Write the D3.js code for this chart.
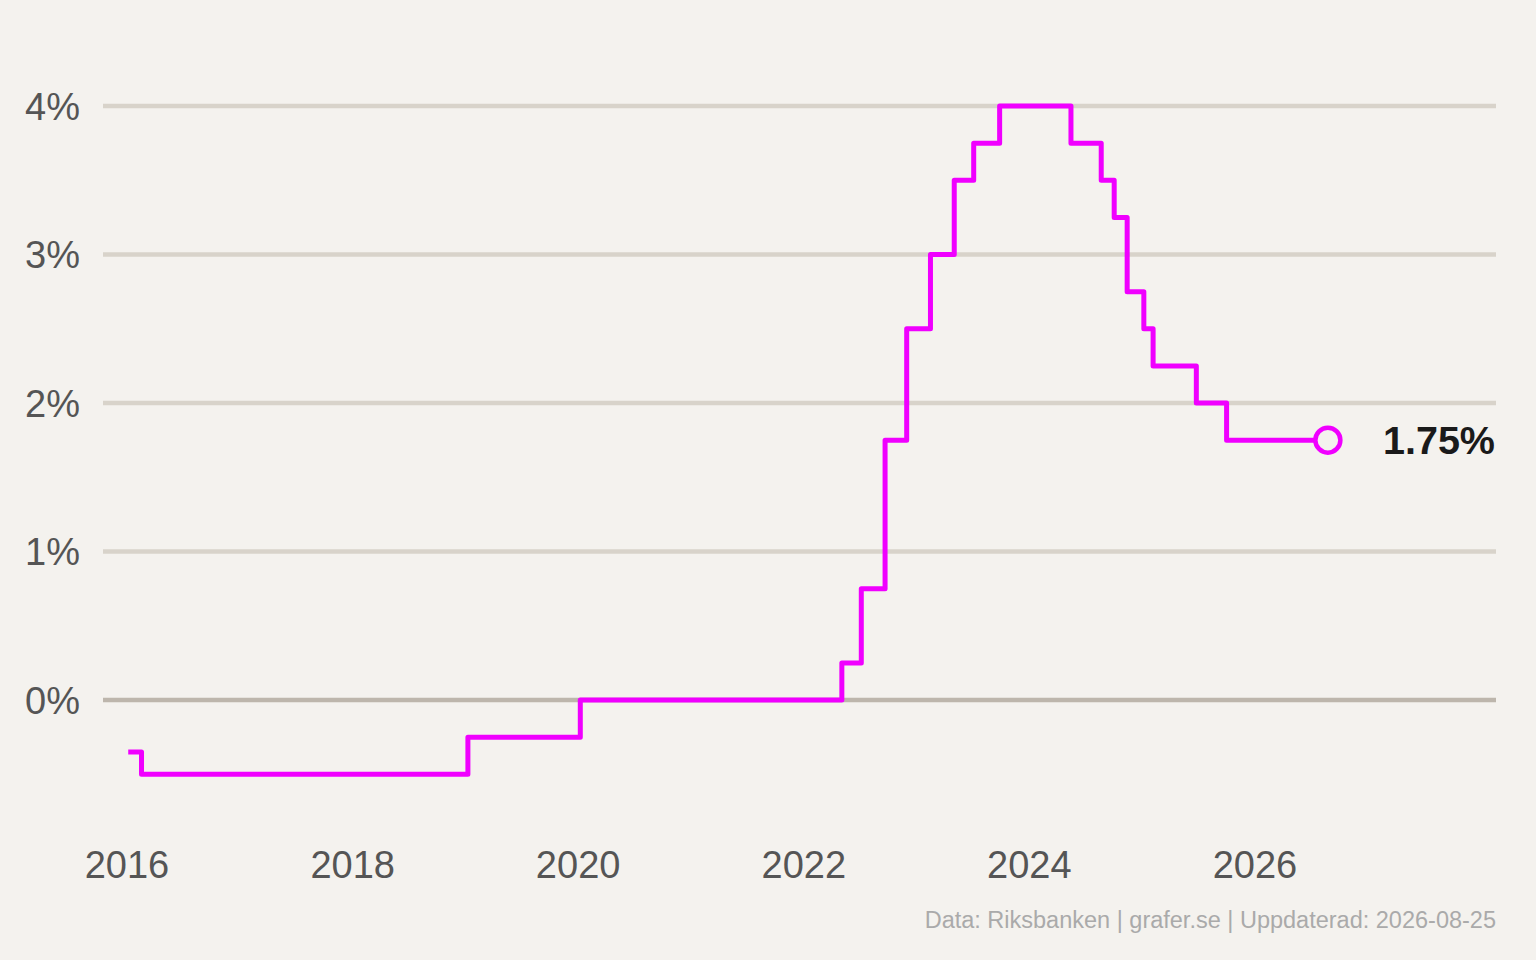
<!DOCTYPE html>
<html><head><meta charset="utf-8">
<script src="https://cdn.jsdelivr.net/npm/d3@7"></script>
<style>
html,body{margin:0;padding:0;background:#f4f2ee;}
svg{display:block;font-family:"Liberation Sans",Arial,sans-serif;}
</style></head>
<body>
<svg id="chart" width="1536" height="960"></svg>
<script>
// Data: Riksbank policy rate (date of change, rate %)
const dates = ["2016-01-05","2016-02-17","2019-01-09","2020-01-08","2022-05-04","2022-07-06","2022-09-21","2022-11-30","2023-02-15","2023-05-03","2023-07-05","2023-09-27","2024-05-15","2024-08-21","2024-10-02","2024-11-13","2025-01-06","2025-02-05","2025-06-25","2025-10-01","2026-08-25"];
const rates = [-0.35,-0.50,-0.25,0.00,0.25,0.75,1.75,2.50,3.00,3.50,3.75,4.00,3.75,3.50,3.25,2.75,2.50,2.25,2.00,1.75,1.75];
const yTicks = [0,1,2,3,4];
const xTickYears = [2016,2018,2020,2022,2024,2026];
const lastLabel = "1.75%";
const sourceText = "Data: Riksbanken | grafer.se | Uppdaterad: 2026-08-25";

const parse = d3.timeParse("%Y-%m-%d");
const data = dates.map((d,i)=>({date:parse(d), value:rates[i]}));

const svg = d3.select("#chart");
const W = 1536, H = 960;
const plotLeft = 103, plotRight = 1496;

const x = d3.scaleTime()
  .domain([new Date(2016,0,1), new Date(2026,0,1)])
  .range([127, 1255]);
const y = d3.scaleLinear().domain([0,4]).range([700,106]);

svg.append("rect").attr("width",W).attr("height",H).attr("fill","#f4f2ee");

// gridlines
const g = svg.append("g");
g.selectAll("line.grid").data(yTicks).join("line")
  .attr("x1",plotLeft).attr("x2",plotRight)
  .attr("y1",d=>y(d)).attr("y2",d=>y(d))
  .attr("stroke",d=>d===0?"#bdb6ac":"#d8d3ca")
  .attr("stroke-width",4.5);

// y labels
g.selectAll("text.ylab").data(yTicks).join("text")
  .attr("x",80).attr("y",d=>y(d))
  .attr("dy","0.36em")
  .attr("text-anchor","end")
  .attr("font-size",38)
  .attr("fill","#555")
  .text(d=>d+"%");

// x labels
g.selectAll("text.xlab").data(xTickYears).join("text")
  .attr("x",d=>x(new Date(d,0,1)))
  .attr("y",864)
  .attr("dy","0.36em")
  .attr("text-anchor","middle")
  .attr("font-size",38)
  .attr("fill","#555")
  .text(d=>d);

// line
const line = d3.line().x(d=>x(d.date)).y(d=>y(d.value)).curve(d3.curveStepAfter);
svg.append("path").datum(data)
  .attr("d",line)
  .attr("fill","none")
  .attr("stroke","#f000ff")
  .attr("stroke-width",5)
  .attr("stroke-linejoin","round");

const last = data[data.length-1];
svg.append("circle")
  .attr("cx",x(last.date)).attr("cy",y(last.value)).attr("r",12.5)
  .attr("fill","#f4f2ee").attr("stroke","#f000ff").attr("stroke-width",4.5);

svg.append("text")
  .attr("x",1495).attr("y",y(last.value))
  .attr("dy","0.36em")
  .attr("text-anchor","end")
  .attr("font-size",39.5)
  .attr("font-weight","bold")
  .attr("fill","#1a1a1a")
  .text(lastLabel);

svg.append("text")
  .attr("x",1496).attr("y",920)
  .attr("dy","0.36em")
  .attr("text-anchor","end")
  .attr("font-size",23.5)
  .attr("fill","#aaaaaa")
  .text(sourceText);
</script>
</body></html>
